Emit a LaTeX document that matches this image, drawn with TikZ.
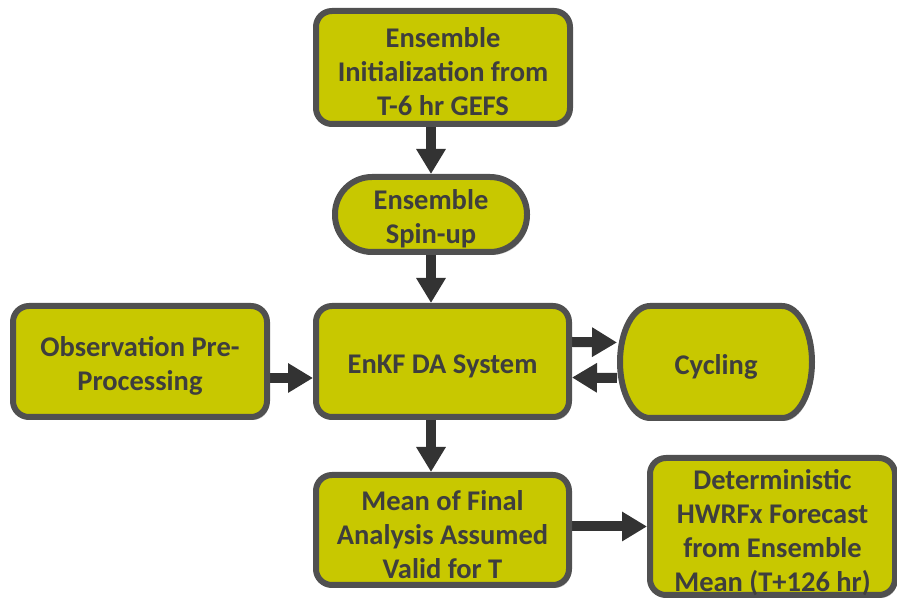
\documentclass[tikz,border=0pt]{standalone}
\usepackage{fontspec}
\setmainfont{Carlito}
\usetikzlibrary{arrows.meta,shadows,calc,backgrounds}
\definecolor{boxfill}{RGB}{200,200,0}
\definecolor{boxline}{RGB}{80,80,80}
\definecolor{boxtext}{RGB}{62,62,62}
\definecolor{arrowcol}{RGB}{51,51,51}
\tikzset{
  boxfont/.style={text=boxtext, font=\fontsize{28.5}{34}\selectfont\bfseries, align=center, inner sep=0pt},
  boxshadow/.style={drop shadow={shadow xshift=2pt, shadow yshift=-3pt, opacity=0.25, fill=black}},
  stepbox/.style={draw=boxline, fill=boxfill, line width=6pt, rounded corners=16pt, boxshadow, inner sep=0pt},
  txt/.style={label={[boxfont, yshift=-4.5pt]center:{#1}}},
  txtlow/.style={label={[boxfont, yshift=-6pt]center:{#1}}},
  flowarrow/.style={draw=arrowcol, line width=10pt, -{Triangle[length=25pt,width=28pt]}},
}
\begin{document}
\begin{tikzpicture}[x=1pt,y=1pt]
\useasboundingbox (0,0) rectangle (897,599);
\node[stepbox, minimum width=254pt, minimum height=113pt,
  txt={Ensemble\\Initialization from\\T-6 hr GEFS}] (top) at (443,531.5) {};
\node[stepbox, minimum width=192pt, minimum height=75pt, rounded corners=37pt,
  txt={Ensemble\\Spin-up}] (spin) at (431,384.5) {};
\node[stepbox, minimum width=253pt, minimum height=111pt,
  txt={EnKF DA System}] (enkf) at (442.5,237.5) {};
\node[stepbox, minimum width=254pt, minimum height=111pt,
  txt={Observation Pre-\\Processing}] (obs) at (140,237.5) {};
\node[minimum width=192pt, minimum height=112pt, inner sep=0pt, outer sep=0pt,
  txt={Cycling}] (cyc) at (716,237) {};
\begin{scope}[on background layer]
  \path[draw=boxline, fill=boxfill, line width=6pt, boxshadow]
    ($(cyc.north west)+(30,0)$) -- ($(cyc.north east)+(-30,0)$)
    arc[start angle=90, end angle=-90, x radius=30, y radius=56]
    -- ($(cyc.south west)+(30,0)$)
    arc[start angle=270, end angle=90, x radius=30, y radius=56] -- cycle;
\end{scope}
\node[stepbox, minimum width=253pt, minimum height=110pt,
  txt={Mean of Final\\Analysis Assumed\\Valid for T}] (mean) at (442.5,69) {};
\node[stepbox, minimum width=245pt, minimum height=137pt,
  txtlow={Deterministic\\HWRFx Forecast\\from Ensemble\\Mean (T+126 hr)}] (det) at (772.5,72.5) {};
\begin{scope}[on background layer]
  \draw[flowarrow] (top.south -| spin.north) -- (spin.north);
  \draw[flowarrow] (spin.south) -- (spin.south |- enkf.north);
  \draw[flowarrow] (enkf.south -| spin.south) -- (mean.north -| spin.south);
  \draw[flowarrow] ($(obs.east)+(0,-16.5)$) -- ($(enkf.west)+(0,-16.5)$);
  \draw[flowarrow, shorten >=3pt] ($(enkf.east)+(0,19.5)$) -- ($(cyc.west)+(0,19.5)$);
  \draw[flowarrow, shorten <=3pt] ($(cyc.west)+(0,-16)$) -- ($(enkf.east)+(0,-16)$);
  \draw[flowarrow] (mean.east |- det.west) -- (det.west);
\end{scope}
\end{tikzpicture}
\end{document}
